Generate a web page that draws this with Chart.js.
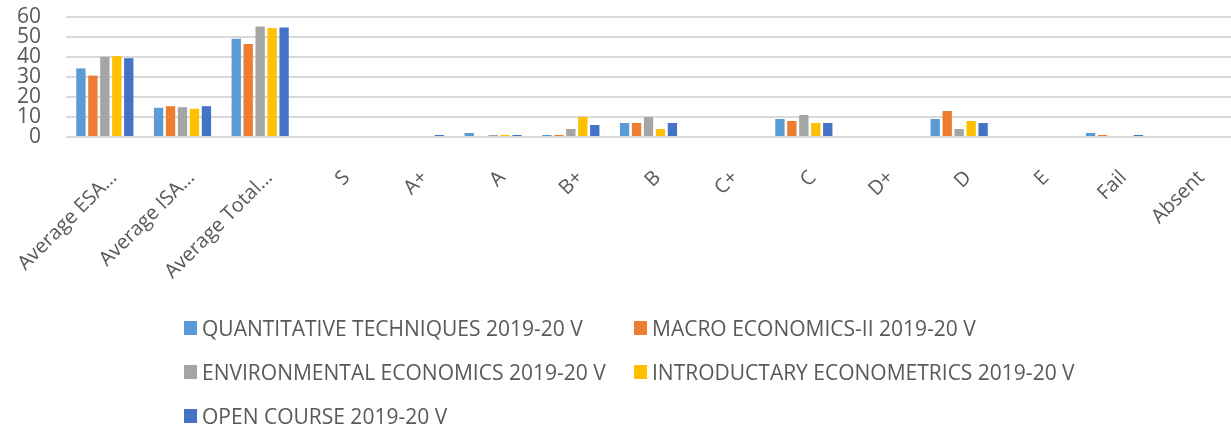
<!DOCTYPE html>
<html>
<head>
<meta charset="utf-8">
<script src="https://cdn.jsdelivr.net/npm/chart.js@4.4.1/dist/chart.umd.min.js"></script>
<style>
  html, body { margin: 0; padding: 0; background: #ffffff; }
  #wrap { position: relative; width: 1231px; height: 430px; overflow: hidden; }
  #plot { position: absolute; left: 0; top: 0; width: 1231px; height: 300px; }
  #legend { position: absolute; left: 0; top: 0; width: 1231px; height: 430px; pointer-events: none;
            font-family: "Open Sans", "Liberation Sans", sans-serif; font-size: 21px; color: #595959; }
  .item { position: absolute; display: flex; align-items: center; white-space: nowrap; height: 30px; }
  .box { width: 13px; height: 14px; margin-right: 5px; flex: none; }
</style>
</head>
<body>
<div id="wrap">
  <div id="plot"><canvas id="chart"></canvas></div>
  <div id="legend"></div>
</div>
<script>
// Categories along the x axis
const categories = ["Average ESA…", "Average ISA…", "Average Total…", "S", "A+", "A", "B+", "B", "C+", "C", "D+", "D", "E", "Fail", "Absent"];

// One array per course
const quantitativeTechniques = [34.3, 14.6, 49.1, 0, 0, 2, 1, 7, 0, 9, 0, 9, 0, 2, 0];
const macroEconomicsII       = [30.7, 15.4, 46.5, 0, 0, 0, 1, 7, 0, 8, 0, 13, 0, 1, 0];
const environmentalEconomics = [40.1, 14.9, 55.2, 0, 0, 1, 4, 10, 0, 11, 0, 4, 0, 0, 0];
const introEconometrics      = [40.4, 14.1, 54.5, 0, 0, 1, 10, 4, 0, 7, 0, 8, 0, 0, 0];
const openCourse             = [39.4, 15.4, 54.8, 0, 1, 1, 6, 7, 0, 7, 0, 7, 0, 1, 0];

const seriesNames = [
  "QUANTITATIVE TECHNIQUES 2019-20 V",
  "MACRO ECONOMICS-II 2019-20 V",
  "ENVIRONMENTAL ECONOMICS 2019-20 V",
  "INTRODUCTARY ECONOMETRICS 2019-20 V",
  "OPEN COURSE 2019-20 V"
];
const seriesValues = [quantitativeTechniques, macroEconomicsII, environmentalEconomics, introEconometrics, openCourse];
const seriesColors = ["#5B9BD5", "#ED7D31", "#A5A5A5", "#FFC000", "#4472C4"];

// Y axis ticks
const yTicks = [0, 10, 20, 30, 40, 50, 60];

const fontFamily = "'Open Sans', 'Liberation Sans', sans-serif";

const datasets = seriesNames.map((name, i) => ({
  label: name,
  data: seriesValues[i],
  backgroundColor: seriesColors[i],
  borderWidth: 0,
  categoryPercentage: 0.77,
  barPercentage: 0.78
}));

const chart = new Chart(document.getElementById("chart"), {
  type: "bar",
  data: { labels: categories, datasets },
  options: {
    responsive: true,
    maintainAspectRatio: false,
    animation: false,
    layout: { padding: { top: 0, right: 0, left: 0, bottom: 0 } },
    plugins: { legend: { display: false }, tooltip: { enabled: false } },
    scales: {
      x: {
        grid: { display: false },
        border: { display: false },
        ticks: {
          autoSkip: false, maxRotation: 45, minRotation: 45,
          color: "#595959", font: { family: fontFamily, size: 20 }, padding: 21, labelOffset: 9
        },
        afterFit(scale) {
          scale.height = 163;
          scale.paddingLeft = 0;
          scale.paddingRight = 0;
        }
      },
      y: {
        min: 0, max: 60,
        afterBuildTicks(scale) { scale.ticks = yTicks.map(v => ({ value: v })); },
        grid: { color: "#d9d9d9", lineWidth: 2, drawTicks: false },
        border: { display: false },
        ticks: { autoSkip: false, color: "#595959", font: { family: fontFamily, size: 21 }, padding: 25 },
        afterFit(scale) {
          scale.width = 66;
          scale.paddingTop = 17;
          scale.paddingBottom = 0;
        }
      }
    }
  }
});

// Two-column legend under the plot
const legendEl = document.getElementById("legend");
const colX = [184, 634];
const rowY = [313, 357, 401];
chart.data.datasets.forEach((ds, i) => {
  const item = document.createElement("div");
  item.className = "item";
  item.style.left = colX[i % 2] + "px";
  item.style.top = rowY[Math.floor(i / 2)] + "px";
  const box = document.createElement("span");
  box.className = "box";
  box.style.background = ds.backgroundColor;
  const txt = document.createElement("span");
  txt.textContent = ds.label;
  item.appendChild(box);
  item.appendChild(txt);
  legendEl.appendChild(item);
});
</script>
</body>
</html>
